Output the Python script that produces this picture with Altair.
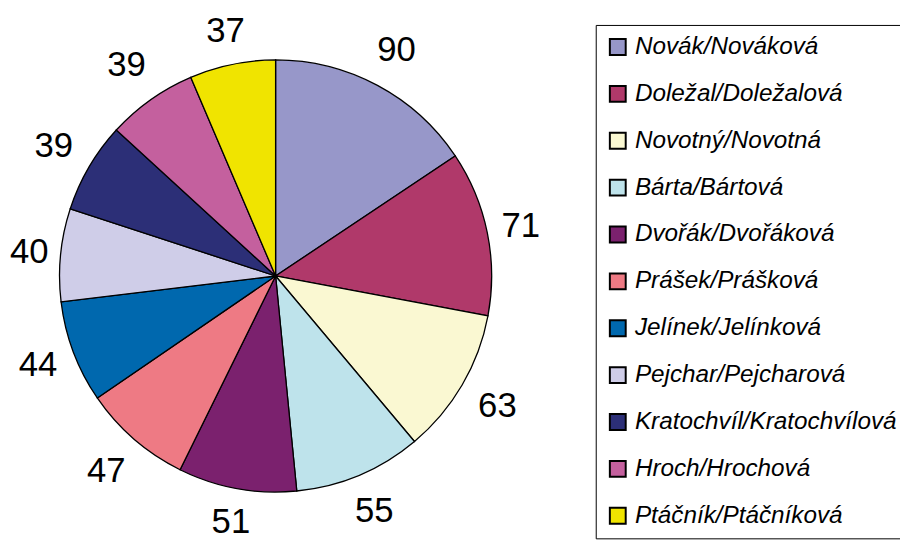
import altair as alt
import pandas as pd

names = ["Novák/Nováková", "Doležal/Doležalová", "Novotný/Novotná", "Bárta/Bártová",
         "Dvořák/Dvořáková", "Prášek/Prášková", "Jelínek/Jelínková", "Pejchar/Pejcharová",
         "Kratochvíl/Kratochvílová", "Hroch/Hrochová", "Ptáčník/Ptáčníková"]
values = [90, 71, 63, 55, 51, 47, 44, 40, 39, 39, 37]
colors = ["#9797C9", "#B0396A", "#FAF8D2", "#BEE3EB", "#7B216E", "#EE7A84",
          "#0068AE", "#CFCDE8", "#2C2F77", "#C4609E", "#F0E400"]

df = pd.DataFrame({"name": names, "value": values, "idx": list(range(len(names)))})

pie = alt.Chart(df).mark_arc(outerRadius=218, stroke="black", strokeWidth=1.3).encode(
    theta=alt.Theta("value:Q", stack=True),
    order=alt.Order("idx:Q"),
    color=alt.Color(
        "name:N",
        scale=alt.Scale(domain=names, range=colors),
        sort=names,
        legend=alt.Legend(
            title=None,
            orient="none",
            legendX=593,
            legendY=12.7,
            symbolType="square",
            symbolSize=256,
            symbolStrokeColor="black",
            symbolStrokeWidth=2,
            symbolOpacity=1,
            labelFont="Liberation Sans",
            labelFontSize=24.5,
            labelFontStyle="italic",
            labelColor="black",
            labelLimit=500,
            labelOffset=5,
            rowPadding=21.3,
            padding=10,
            strokeColor="black",
            fillColor="white",
        ),
    ),
)

# labels sit at each slice's mid angle; the distance from centre grows a little
# on the diagonals, as in the original
labels = alt.Chart(df).mark_text(fontSize=35, font="Liberation Sans",
                                 color="black", align="center", baseline="middle").encode(
    theta=alt.Theta("midv:Q", stack=None),
    radius=alt.Radius("lr:Q", scale=None),
    text="value:Q",
).transform_joinaggregate(
    total="sum(value)"
).transform_window(
    cum="sum(value)", sort=[alt.SortField("idx")], frame=[None, 0]
).transform_calculate(
    midv="datum.cum - datum.value / 2",
).transform_calculate(
    lr="247 + 14 * abs(sin(2 * datum.midv / datum.total * 2 * PI))",
)

chart = alt.layer(pie, labels).properties(
    width=540,
    height=532,
    padding={"left": 0, "top": 2, "right": 360, "bottom": 0},
    autosize="none",
).configure_view(stroke=None)

chart.save("out.html", embed_options={"renderer": "svg", "actions": False})
